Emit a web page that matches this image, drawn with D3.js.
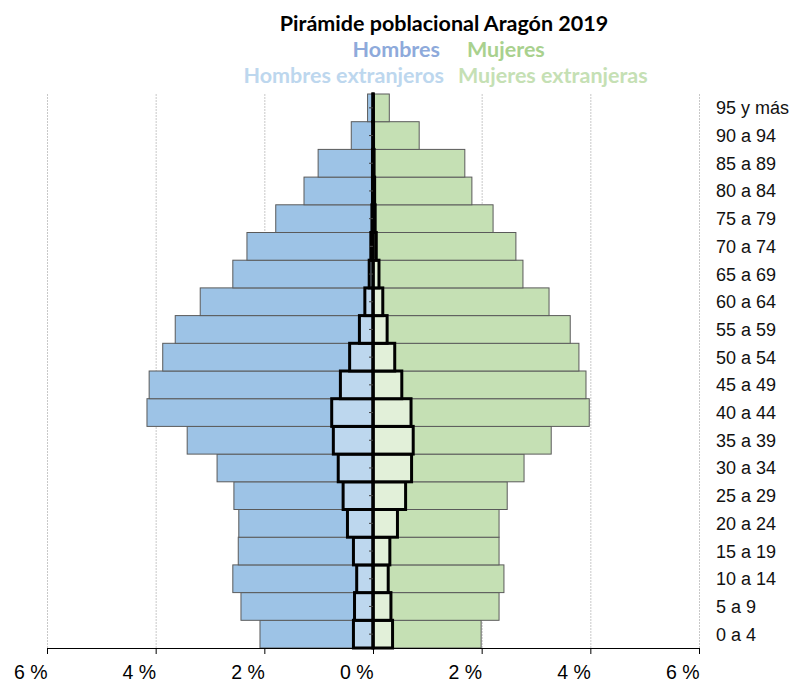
<!DOCTYPE html>
<html>
<head>
<meta charset="utf-8">
<script src="https://cdn.jsdelivr.net/npm/d3@7"></script>
<style>
  body { margin: 0; background: #fff; }
  text { font-family: "Liberation Sans", Arial, sans-serif; }
  .titulo { font-family: Lato, "Open Sans", sans-serif; font-weight: bold; }
</style>
</head>
<body>
<div id="piramide"></div>
<script>

// grupos de edad, de abajo hacia arriba
var ages = ["0 a 4", "5 a 9", "10 a 14", "15 a 19", "20 a 24", "25 a 29", "30 a 34",
    "35 a 39", "40 a 44", "45 a 49", "50 a 54", "55 a 59", "60 a 64", "65 a 69",
    "70 a 74", "75 a 79", "80 a 84", "85 a 89", "90 a 94", "95 y más"];

// % sobre el total de la poblacion
var hombres = [2.08, 2.43, 2.58, 2.48, 2.47, 2.56, 2.87, 3.42, 4.16, 4.12,
    3.87, 3.64, 3.18, 2.58, 2.32, 1.79, 1.27, 1.01, 0.40, 0.10];
var mujeres = [1.99, 2.32, 2.41, 2.32, 2.32, 2.47, 2.78, 3.28, 3.98, 3.92,
    3.79, 3.63, 3.24, 2.76, 2.63, 2.21, 1.82, 1.69, 0.85, 0.30];
var hombresExt = [0.36, 0.34, 0.30, 0.36, 0.47, 0.55, 0.64, 0.73, 0.76, 0.60,
    0.43, 0.25, 0.15, 0.07, 0.04, 0.02, 0.01, 0.01, 0.005, 0.002];
var mujeresExt = [0.36, 0.33, 0.28, 0.31, 0.45, 0.60, 0.71, 0.74, 0.70, 0.53,
    0.40, 0.26, 0.18, 0.11, 0.06, 0.04, 0.03, 0.02, 0.01, 0.005];

var xTicks = [-6, -4, -2, 0, 2, 4, 6];

var title = "Pirámide poblacional Aragón 2019";
var legend1 = [["Hombres", "#8eaadb"], ["Mujeres", "#a9d18e"]];
var legend2 = [["Hombres extranjeros", "#bdd7ee"], ["Mujeres extranjeras", "#c5e0b4"]];

var width = 793, height = 682;

var svg = d3.select("#piramide")
    .append("svg")
    .attr("width", width)
    .attr("height", height);

var x = d3.scaleLinear().domain([-6, 6]).range([47, 699]);
var y = d3.scaleBand().domain(ages.slice().reverse()).range([94, 648]).padding(0);

// rejilla punteada
svg.selectAll("line.grid")
    .data(xTicks.filter(d => d != 0))
    .enter()
    .append("line")
    .attr("class", "grid")
    .attr("x1", d => x(d) + 0.5)
    .attr("x2", d => x(d) + 0.5)
    .attr("y1", 94)
    .attr("y2", 648)
    .attr("stroke", "#c8c8c8")
    .attr("stroke-dasharray", "2,1");

function drawBars(values, side, fill, stroke, sw) {
    svg.append("g")
        .selectAll("rect")
        .data(values)
        .enter()
        .append("rect")
        .attr("x", function (d) {
            return side < 0 ? x(-d) : x(0);
        })
        .attr("y", (d, i) => y(ages[i]))
        .attr("width", d => x(d) - x(0))
        .attr("height", y.bandwidth())
        .attr("fill", fill)
        .attr("stroke", stroke)
        .attr("stroke-width", sw);
}

drawBars(hombres, -1, "#9dc3e6", "#5a5a5a", 1);
drawBars(mujeres, 1, "#c5e0b4", "#5a5a5a", 1);
drawBars(hombresExt, -1, "#bdd7ee", "#000", 3);
drawBars(mujeresExt, 1, "#e2f0d9", "#000", 3);

// eje central
var yAxis = svg.append("g")
    .attr("transform", "translate(" + x(0) + ",0)")
    .call(d3.axisLeft(y).tickSize(4).tickSizeOuter(0).tickFormat(""));
yAxis.select(".domain").attr("stroke", "#000").attr("stroke-width", 2.5);
yAxis.selectAll(".tick line").attr("stroke", "#444");

// eje inferior
var xAxis = svg.append("g")
    .attr("transform", "translate(0,648)")
    .call(d3.axisBottom(x).tickValues(xTicks).tickSize(6).tickSizeOuter(6)
        .tickFormat(d => Math.abs(d) + " %"));
xAxis.select(".domain").attr("stroke", "#000");
xAxis.selectAll(".tick line").attr("stroke", "#000");
xAxis.selectAll(".tick text")
    .attr("text-anchor", "end")
    .attr("x", 0)
    .attr("y", 31)
    .attr("dy", 0)
    .attr("fill", "#000")
    .style("font-size", "19.5px")
    .style("font-family", "Liberation Sans, Arial, sans-serif");

// etiquetas de edad a la derecha
svg.selectAll("text.edad")
    .data(ages)
    .enter()
    .append("text")
    .attr("class", "edad")
    .attr("x", 716)
    .attr("y", d => y(d) + y.bandwidth() / 2)
    .attr("dy", "0.36em")
    .style("font-size", "18px")
    .attr("fill", "#111")
    .text(d => d);

// titulo y leyenda
svg.append("text")
    .attr("class", "titulo")
    .attr("x", 444)
    .attr("y", 31)
    .attr("text-anchor", "middle")
    .style("font-size", "21.5px")
    .attr("fill", "#000")
    .text(title);

function legendRow(items, yPos, xLeft, xRight) {
    svg.append("text")
        .attr("class", "titulo")
        .attr("x", xLeft)
        .attr("y", yPos)
        .attr("text-anchor", "end")
        .style("font-size", "21.5px")
        .attr("fill", items[0][1])
        .text(items[0][0]);
    svg.append("text")
        .attr("class", "titulo")
        .attr("x", xRight)
        .attr("y", yPos)
        .attr("text-anchor", "start")
        .style("font-size", "21.5px")
        .attr("fill", items[1][1])
        .text(items[1][0]);
}

legendRow(legend1, 57, 440, 467);
legendRow(legend2, 83, 444, 458);

</script>
</body>
</html>
